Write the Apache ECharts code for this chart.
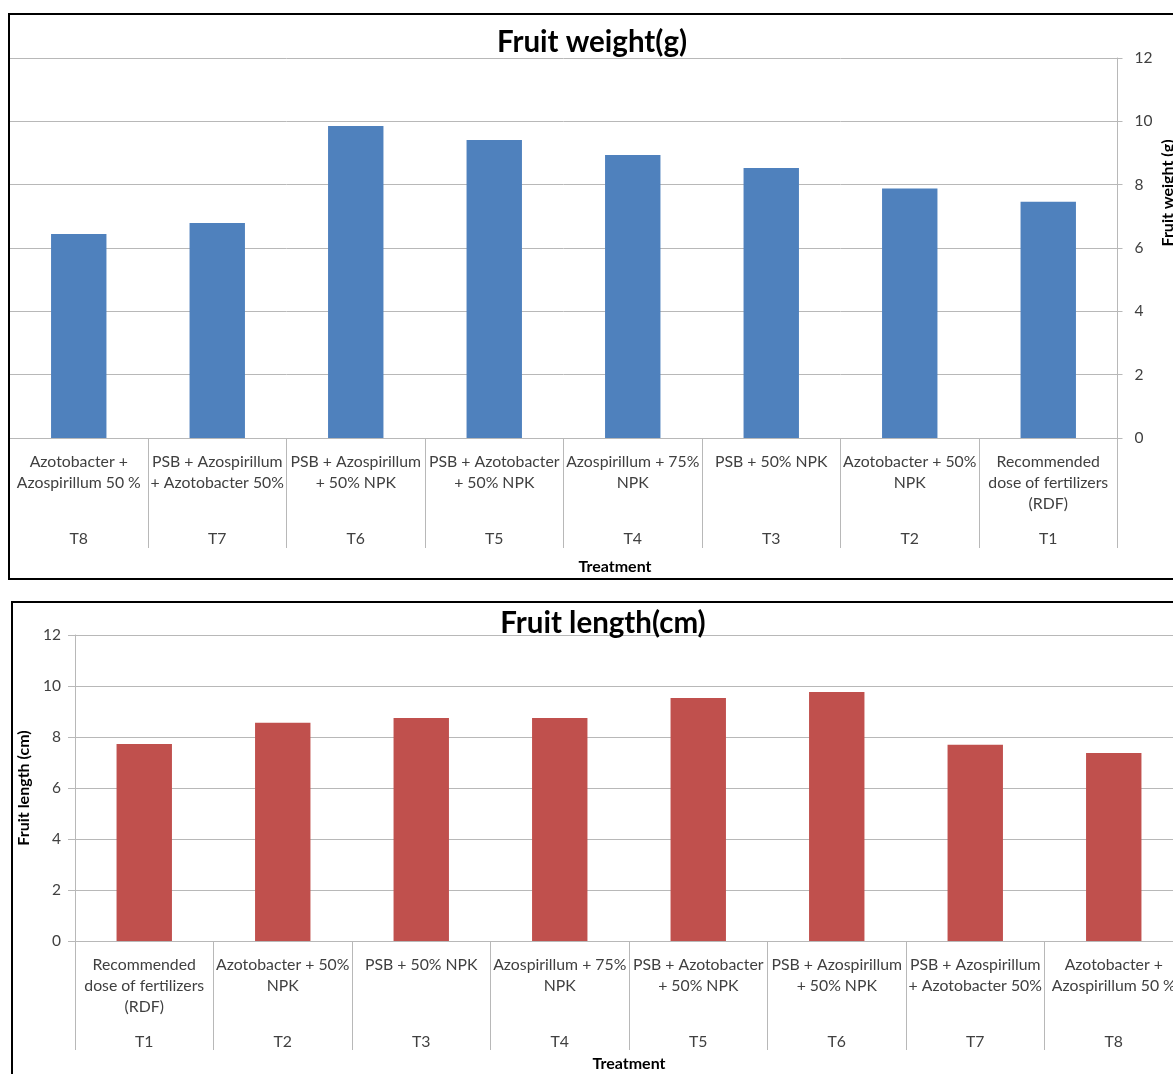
<!DOCTYPE html>
<html><head><meta charset="utf-8">
<script src="https://cdn.jsdelivr.net/npm/echarts@6/dist/echarts.min.js"></script>
<style>html,body{margin:0;padding:0;background:#fff;overflow:hidden}#c{width:1200px;height:1074px}</style>
</head><body><div id="c"></div>
<script>
var codes = ['T1','T2','T3','T4','T5','T6','T7','T8'];
var treatments = [
  'Recommended\ndose of fertilizers\n(RDF)',
  'Azotobacter + 50%\nNPK',
  'PSB + 50% NPK',
  'Azospirillum + 75%\nNPK',
  'PSB + Azotobacter\n+ 50% NPK',
  'PSB + Azospirillum\n+ 50% NPK',
  'PSB + Azospirillum\n+ Azotobacter 50%',
  'Azotobacter +\nAzospirillum 50 %'
];
var fruitWeight = [7.46, 7.88, 8.53, 8.94, 9.41, 9.85, 6.79, 6.44];
var fruitLength = [7.73, 8.56, 8.75, 8.75, 9.53, 9.76, 7.70, 7.37];
var yTicks = [0, 2, 4, 6, 8, 10, 12];

var FONT = 'Lato';
var TXT = '#404040';
var GRID = '#b8b8b8';
var chart = echarts.init(document.getElementById('c'));

function catAxis(gridIndex, inverse, data, isCode, showLine, tickLen) {
  return {
    type: 'category', gridIndex: gridIndex, data: data, inverse: inverse, position: 'bottom',
    axisLine: {show: showLine, lineStyle: {color: GRID, width: 1}},
    axisTick: {show: !isCode, length: tickLen, lineStyle: {color: GRID}},
    splitLine: {show: false},
    axisLabel: {
      interval: 0, margin: isCode ? 90 : 13, verticalAlign: 'top',
      fontFamily: FONT, fontSize: 15.8, color: TXT, lineHeight: 21, align: 'center'
    }
  };
}
function valAxis(gridIndex, pos, margin, tickLen, name) {
  var a = {
    type: 'value', gridIndex: gridIndex, position: pos, min: yTicks[0], max: yTicks[yTicks.length-1], interval: 2,
    axisLine: {show: true, lineStyle: {color: GRID}},
    axisTick: {show: true, length: tickLen, lineStyle: {color: GRID}},
    splitLine: {show: true, lineStyle: {color: GRID, width: 1}},
    axisLabel: {margin: margin, fontFamily: FONT, fontSize: 15.5, color: TXT}
  };
  if (name) {
    a.name = name; a.nameLocation = 'middle'; a.nameGap = 37;
    a.nameTextStyle = {fontFamily: FONT, fontSize: 16, fontWeight: 'bold', color: '#000'};
  }
  return a;
}

chart.setOption({
  animation: false,
  title: [
    {text: 'Fruit weight(g)', left: 587, top: 22, textAlign: 'center',
     textStyle: {fontFamily: FONT, fontSize: 29.5, fontWeight: 'bold', color: '#000'}},
    {text: 'Fruit length(cm)', left: 598, top: 603, textAlign: 'center',
     textStyle: {fontFamily: FONT, fontSize: 29.5, fontWeight: 'bold', color: '#000'}}
  ],
  grid: [
    {left: 9.5, top: 58, width: 1108, height: 380, containLabel: false},
    {left: 75, top: 635, width: 1108, height: 306, containLabel: false}
  ],
  xAxis: [
    catAxis(0, true, treatments, false, true, 110),
    catAxis(0, true, codes, true, false, 0),
    catAxis(1, false, treatments, false, true, 109),
    catAxis(1, false, codes, true, false, 0)
  ],
  yAxis: [
    valAxis(0, 'right', 17, 5, null),
    valAxis(1, 'left', 14, 7, 'Fruit length (cm)')
  ],
  series: [
    {type: 'bar', xAxisIndex: 0, yAxisIndex: 0, data: fruitWeight, barWidth: '40%',
     itemStyle: {color: '#4F81BD'}},
    {type: 'bar', xAxisIndex: 2, yAxisIndex: 1, data: fruitLength, barWidth: '40%',
     itemStyle: {color: '#C0504D'}}
  ],
  graphic: [
    {type: 'rect', shape: {x: 9, y: 14, width: 1220, height: 565}, style: {fill: 'none', stroke: '#000', lineWidth: 2}, z: 100},
    {type: 'rect', shape: {x: 12, y: 602, width: 1220, height: 600}, style: {fill: 'none', stroke: '#000', lineWidth: 2}, z: 100},
    {type: 'text', x: 615, y: 567, style: {text: 'Treatment', fontFamily: FONT, fontSize: 16, fontWeight: 'bold', fill: '#000', align: 'center', verticalAlign: 'middle'}},
    {type: 'text', x: 629, y: 1064, style: {text: 'Treatment', fontFamily: FONT, fontSize: 16, fontWeight: 'bold', fill: '#000', align: 'center', verticalAlign: 'middle'}},
    {type: 'text', x: 1168, y: 193, rotation: Math.PI / 2, style: {text: 'Fruit weight (g)', fontFamily: FONT, fontSize: 16, fontWeight: 'bold', fill: '#000', align: 'center', verticalAlign: 'middle'}}
  ]
});
</script></body></html>
